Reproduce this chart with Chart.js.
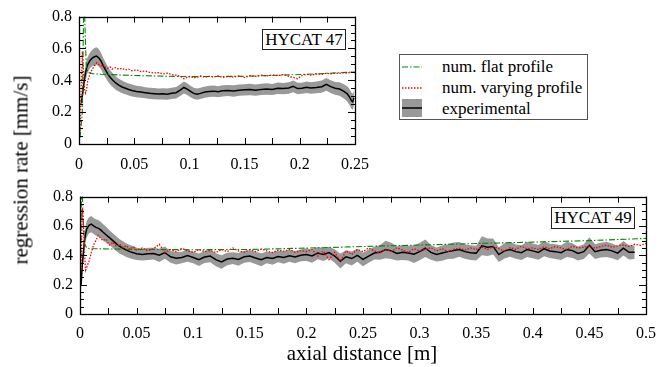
<!DOCTYPE html>
<html>
<head>
<meta charset="utf-8">
<script src="https://cdn.jsdelivr.net/npm/chart.js@4.4.1/dist/chart.umd.min.js"></script>
<style>
  body { margin: 0; width: 666px; height: 367px; position: relative; background: #fff; overflow: hidden;
         font-family: "Liberation Serif", serif; color: #000; }
  canvas { position: absolute; left: 0; }
  .tag { position: absolute; border: 1px solid #222; box-sizing: border-box; font-size: 17px;
         text-align: center; line-height: 19px; background: #fff; }
  .legend { position: absolute; left: 399px; top: 54px; width: 189px; height: 66px; box-sizing: border-box;
            border: 1px solid #555; background: #fff; }
  .legend .row { position: absolute; left: 42px; font-size: 17px; line-height: 18px; white-space: nowrap; }
  .legend svg { position: absolute; left: 0; top: 0; }
  .ytitle { position: absolute; left: 21px; top: 170px; font-size: 21px; white-space: nowrap;
            transform: translate(-50%, -50%) rotate(-90deg); }
  .xtitle { position: absolute; left: 362px; top: 353px; font-size: 21px; white-space: nowrap;
            transform: translate(-50%, -50%); }
</style>
</head>
<body>
<canvas id="c47" width="380" height="175" style="top:0"></canvas>
<canvas id="c49" width="666" height="187" style="top:180px"></canvas>

<div class="tag" style="left:262px;top:29px;width:84px;height:21px">HYCAT 47</div>
<div class="tag" style="left:551px;top:207px;width:84px;height:22px">HYCAT 49</div>

<div class="legend">
  <svg width="40" height="64">
    <line x1="2" y1="12" x2="22" y2="12" stroke="#008a00" stroke-width="1.1" stroke-dasharray="6 2 1.5 2"/>
    <line x1="2" y1="33" x2="22" y2="33" stroke="#ff0000" stroke-width="1.3" stroke-dasharray="1.5 1.5"/>
    <rect x="2" y="44" width="20" height="18" fill="#999"/>
    <line x1="2" y1="53" x2="22" y2="53" stroke="#000" stroke-width="1.5"/>
  </svg>
  <div class="row" style="top:3px">num. flat profile</div>
  <div class="row" style="top:24px">num. varying profile</div>
  <div class="row" style="top:45px">experimental</div>
</div>

<div class="ytitle">regression rate [mm/s]</div>
<div class="xtitle">axial distance [m]</div>

<script>
// ---- HYCAT 47 ----
// sample positions shared by the measured curve, its band and the varying-profile run
const x47 = [
  0.001, 0.002, 0.003, 0.004, 0.005, 0.006, 0.007, 0.008,
  0.01, 0.012, 0.014, 0.016, 0.018, 0.02, 0.022, 0.024, 0.026, 0.028, 0.03,
  0.033, 0.036, 0.039, 0.042, 0.045, 0.048,
  0.052, 0.056, 0.06, 0.064, 0.068, 0.072, 0.076, 0.08, 0.084, 0.088,
  0.092, 0.095, 0.098, 0.101, 0.104, 0.107, 0.11,
  0.114, 0.118, 0.122, 0.126, 0.13,
  0.135, 0.14, 0.145, 0.15, 0.155, 0.16, 0.165, 0.17, 0.175, 0.18, 0.185, 0.19,
  0.194, 0.198, 0.202, 0.206, 0.21,
  0.215, 0.22, 0.224, 0.228, 0.232, 0.236, 0.24,
  0.243, 0.245, 0.247, 0.248, 0.249
];
const exp47 = [
  null, 0.26, 0.30, 0.36, 0.41, 0.45, 0.48, 0.50,
  0.525, 0.54, 0.548, 0.552, 0.54, 0.52, 0.49, 0.465, 0.44, 0.42, 0.405,
  0.385, 0.37, 0.358, 0.35, 0.342, 0.336,
  0.33, 0.326, 0.322, 0.318, 0.316, 0.314, 0.315, 0.313, 0.318, 0.322,
  0.34, 0.355, 0.345, 0.33, 0.318, 0.313, 0.318,
  0.326, 0.33, 0.332, 0.328, 0.334,
  0.336, 0.333, 0.338, 0.34, 0.342, 0.338, 0.343, 0.345, 0.342, 0.35, 0.348, 0.352,
  0.362, 0.348, 0.35, 0.356, 0.352,
  0.355, 0.36, 0.375, 0.36, 0.35, 0.345, 0.33,
  0.315, 0.295, 0.27, 0.265, 0.29
];
const err47 = [
  null, 0.035, 0.04, 0.04, 0.045, 0.045, 0.05, 0.05,
  0.05, 0.052, 0.055, 0.055, 0.055, 0.052, 0.05, 0.048, 0.046, 0.045, 0.044,
  0.042, 0.04, 0.04, 0.038, 0.038, 0.037,
  0.036, 0.036, 0.035, 0.035, 0.035, 0.035, 0.035, 0.035, 0.035, 0.036,
  0.037, 0.038, 0.037, 0.036, 0.035, 0.035, 0.035,
  0.035, 0.035, 0.036, 0.035, 0.035,
  0.035, 0.036, 0.035, 0.035, 0.036, 0.035, 0.035, 0.036, 0.035, 0.036, 0.035, 0.036,
  0.037, 0.036, 0.035, 0.036, 0.036,
  0.037, 0.038, 0.04, 0.04, 0.04, 0.042, 0.045,
  0.048, 0.05, 0.05, 0.05, 0.05
];
const vary47 = [
  0.08, 0.35, 0.58, 0.47, 0.34, 0.32, 0.35, 0.40,
  0.44, 0.47, 0.49, 0.51, 0.50, 0.49, 0.50, 0.48, 0.475, 0.485, 0.47,
  0.48, 0.47, 0.475, 0.465, 0.47, 0.46,
  0.465, 0.455, 0.458, 0.45, 0.446, 0.448, 0.44, 0.445, 0.436, 0.432,
  0.425, 0.41, 0.418, 0.425, 0.415, 0.42, 0.428,
  0.418, 0.425, 0.42, 0.428, 0.418,
  0.424, 0.42, 0.428, 0.418, 0.43, 0.425, 0.432, 0.428, 0.434, 0.43, 0.436, 0.425,
  0.418, 0.41, 0.43, 0.438, 0.432,
  0.44, 0.437, 0.444, 0.44, 0.446, 0.443, 0.448,
  0.445, 0.45, 0.452, 0.45, 0.455
];
const flatX47 = [0.001, 0.003, 0.0045, 0.0055, 0.0065, 0.008, 0.012, 0.02, 0.05, 0.1, 0.15, 0.2, 0.25];
const flatY47 = [0.04, 0.2, 1.0, 0.72, 0.5, 0.45, 0.442, 0.438, 0.43, 0.423, 0.425, 0.436, 0.452];

// ---- HYCAT 49 ----
const x49 = [
  0.001, 0.002, 0.003, 0.004, 0.005, 0.006, 0.008, 0.01, 0.012, 0.014, 0.016, 0.018,
  0.02, 0.023, 0.026, 0.029, 0.032, 0.035, 0.038, 0.041, 0.044, 0.047, 0.05,
  0.055, 0.06, 0.065, 0.07, 0.075, 0.08, 0.085, 0.09, 0.095, 0.1,
  0.105, 0.11, 0.115, 0.12, 0.125, 0.13, 0.135, 0.14, 0.145, 0.15,
  0.155, 0.16, 0.165, 0.17, 0.175, 0.18, 0.185, 0.19, 0.195, 0.2,
  0.205, 0.21, 0.215, 0.22, 0.225, 0.23, 0.235, 0.24, 0.245, 0.25,
  0.255, 0.26, 0.265, 0.27, 0.275, 0.28, 0.285, 0.29, 0.295, 0.3,
  0.305, 0.31, 0.315, 0.32, 0.325, 0.33, 0.335, 0.34, 0.345, 0.35,
  0.355, 0.36, 0.365, 0.37, 0.375, 0.38, 0.385, 0.39, 0.395, 0.4,
  0.405, 0.41, 0.415, 0.42, 0.425, 0.43, 0.435, 0.44, 0.445, 0.45,
  0.455, 0.46, 0.465, 0.47, 0.475, 0.48, 0.485, 0.49, 0.495, 0.5
];
const exp49 = [
  0.2, 0.33, 0.42, 0.5, 0.55, 0.58, 0.605, 0.612, 0.6, 0.59, 0.585, 0.575,
  0.56, 0.54, 0.52, 0.5, 0.48, 0.46, 0.448, 0.435, 0.425, 0.418, 0.41,
  0.405, 0.41, 0.412, 0.4, 0.418, 0.39, 0.38, 0.385, 0.398, 0.385,
  0.37, 0.388, 0.395, 0.37, 0.355, 0.375, 0.38, 0.372, 0.39, 0.395,
  0.382, 0.37, 0.385, 0.378, 0.392, 0.385, 0.397, 0.388, 0.4, 0.405,
  0.395, 0.415, 0.405, 0.418, 0.395, 0.36, 0.39, 0.378, 0.4, 0.372,
  0.395, 0.415, 0.42, 0.44, 0.43, 0.412, 0.42, 0.415, 0.408, 0.425,
  0.448, 0.42, 0.405, 0.415, 0.425, 0.432, 0.44, 0.425, 0.418, 0.415,
  0.465, 0.455, 0.46, 0.405, 0.43, 0.44, 0.425, 0.418, 0.44, 0.43,
  0.42, 0.445, 0.43, 0.425, 0.418, 0.44, 0.432, 0.412, 0.425, 0.468,
  0.425, 0.435, 0.44, 0.43, 0.415, 0.448, 0.42, 0.42, null, null
];
const err49 = [
  0.04, 0.045, 0.05, 0.05, 0.055, 0.055, 0.055, 0.055, 0.055, 0.055, 0.055, 0.055,
  0.055, 0.055, 0.05, 0.05, 0.05, 0.05, 0.048, 0.046, 0.045, 0.045, 0.042,
  0.04, 0.042, 0.04, 0.045, 0.042, 0.04, 0.043, 0.04, 0.042, 0.04,
  0.043, 0.04, 0.042, 0.044, 0.046, 0.042, 0.04, 0.043, 0.041, 0.04,
  0.042, 0.044, 0.04, 0.042, 0.04, 0.043, 0.041, 0.042, 0.04, 0.043,
  0.045, 0.042, 0.044, 0.04, 0.046, 0.05, 0.045, 0.048, 0.044, 0.046,
  0.045, 0.043, 0.05, 0.06, 0.055, 0.048, 0.052, 0.05, 0.06, 0.058,
  0.06, 0.05, 0.048, 0.052, 0.05, 0.055, 0.05, 0.048, 0.05, 0.05,
  0.065, 0.06, 0.055, 0.05, 0.052, 0.05, 0.048, 0.05, 0.052, 0.05,
  0.05, 0.052, 0.048, 0.05, 0.05, 0.052, 0.05, 0.048, 0.05, 0.055,
  0.05, 0.05, 0.052, 0.05, 0.048, 0.05, 0.048, 0.046, null, null
];
const vary49 = [
  0.3, 0.72, 0.62, 0.4, 0.3, 0.32, 0.36, 0.42, 0.47, 0.5, 0.535, 0.52,
  0.5, 0.51, 0.47, 0.49, 0.46, 0.475, 0.452, 0.465, 0.44, 0.458, 0.435,
  0.45, 0.43, 0.445, 0.475, 0.42, 0.438, 0.425, 0.448, 0.43, 0.42,
  0.44, 0.425, 0.432, 0.418, 0.44, 0.425, 0.45, 0.43, 0.42, 0.438,
  0.425, 0.442, 0.43, 0.418, 0.435, 0.428, 0.44, 0.42, 0.432, 0.425,
  0.44, 0.395, 0.43, 0.37, 0.42, 0.36, 0.43, 0.405, 0.44, 0.425,
  0.45, 0.43, 0.415, 0.44, 0.425, 0.452, 0.435, 0.42, 0.445, 0.43,
  0.44, 0.452, 0.43, 0.445, 0.425, 0.44, 0.448, 0.435, 0.45, 0.44,
  0.455, 0.44, 0.46, 0.445, 0.43, 0.452, 0.44, 0.462, 0.445, 0.45,
  0.44, 0.458, 0.445, 0.46, 0.45, 0.438, 0.462, 0.45, 0.455, 0.465,
  0.448, 0.46, 0.47, 0.455, 0.465, 0.47, 0.46, 0.475, 0.468, 0.48
];
const flatX49 = [0, 0.0008, 0.0015, 0.0025, 0.004, 0.006, 0.01, 0.05, 0.1, 0.15, 0.2, 0.25, 0.3, 0.35, 0.4, 0.45, 0.5];
const flatY49 = [0.02, 0.5, 1.0, 0.7, 0.48, 0.45, 0.445, 0.44, 0.438, 0.44, 0.449, 0.46, 0.47, 0.48, 0.49, 0.5, 0.515];

const yTicks = [0, 0.2, 0.4, 0.6, 0.8];
const tickFont = { family: 'Liberation Serif', size: 16 };

function pts(xs, ys) {
  return xs.map((x, i) => ({ x: x, y: ys[i] }));
}
function shifted(ys, err, sign) {
  return ys.map((v, i) => (v == null ? null : v + sign * err[i]));
}
function fmt(v) {
  return String(Number(v.toFixed(3)));
}

// frame plus inward ticks on all four sides (x every 0.025, y every 0.05)
const frameTicks = {
  id: 'frameTicks',
  afterDatasetsDraw(chart) {
    const { ctx, chartArea: a, scales } = chart;
    const sx = scales.x, sy = scales.y;
    ctx.save();
    ctx.strokeStyle = '#000';
    ctx.lineWidth = 1;
    ctx.beginPath();
    for (let v = 0; v <= sx.max + 1e-9; v += 0.025) {
      const px = Math.round(sx.getPixelForValue(v)) + 0.5;
      ctx.moveTo(px, a.bottom); ctx.lineTo(px, a.bottom - 6);
      ctx.moveTo(px, a.top); ctx.lineTo(px, a.top + 6);
    }
    for (let i = 0; i <= 16; i++) {
      const py = Math.round(sy.getPixelForValue(i * 0.05)) + 0.5;
      const len = i % 4 === 0 ? 7 : 4;
      ctx.moveTo(a.left, py); ctx.lineTo(a.left + len, py);
      ctx.moveTo(a.right, py); ctx.lineTo(a.right - len, py);
    }
    ctx.stroke();
    ctx.lineWidth = 1.3;
    ctx.strokeRect(Math.round(a.left) + 0.5, Math.round(a.top) + 0.5,
                   Math.round(a.width), Math.round(a.height));
    ctx.restore();
  }
};

function makeChart(id, xs, exp, err, vary, fx, fy, xmax, padding, xh, xPad) {
  return new Chart(document.getElementById(id), {
    type: 'line',
    data: {
      datasets: [
        { data: pts(xs, vary), borderColor: '#ff0000', borderWidth: 1.3, borderDash: [1.5, 1.5] },
        { data: pts(fx, fy), borderColor: '#008a00', borderWidth: 1.1, borderDash: [6, 2, 1.5, 2] },
        { data: pts(xs, exp), borderColor: '#000', borderWidth: 1.5 },
        { data: pts(xs, shifted(exp, err, 1)), borderWidth: 0, backgroundColor: '#999', fill: '+1' },
        { data: pts(xs, shifted(exp, err, -1)), borderWidth: 0, backgroundColor: '#999', fill: false }
      ]
    },
    options: {
      responsive: false,
      animation: false,
      events: [],
      layout: { padding: padding },
      elements: { point: { radius: 0 }, line: { tension: 0 } },
      plugins: { legend: { display: false }, tooltip: { enabled: false } },
      scales: {
        x: {
          type: 'linear', min: 0, max: xmax,
          grid: { display: false, drawTicks: false }, border: { display: false },
          ticks: { stepSize: 0.05, maxRotation: 0, autoSkip: false, padding: xPad, color: '#000',
                   font: tickFont, callback: fmt },
          afterFit: s => { s.height = xh; }
        },
        y: {
          min: 0, max: 0.8,
          grid: { display: false, drawTicks: false }, border: { display: false },
          ticks: { stepSize: 0.2, padding: 7, color: '#000', font: tickFont, callback: fmt },
          afterBuildTicks: s => { s.ticks = yTicks.map(v => ({ value: v })); },
          afterFit: s => { s.width = 40; }
        }
      }
    },
    plugins: [frameTicks]
  });
}

function drawAll() {
  makeChart('c47', x47, exp47, err47, vary47, flatX47, flatY47, 0.25,
    { left: 39, right: 22, top: 11, bottom: 0 }, 31, 11);
  makeChart('c49', x49, exp49, err49, vary49, flatX49, flatY49, 0.5,
    { left: 40, right: 20, top: 14, bottom: 25 }, 28, 10);
}

document.fonts.load('16px "Liberation Serif"').then(drawAll, drawAll);
</script>
</body>
</html>
